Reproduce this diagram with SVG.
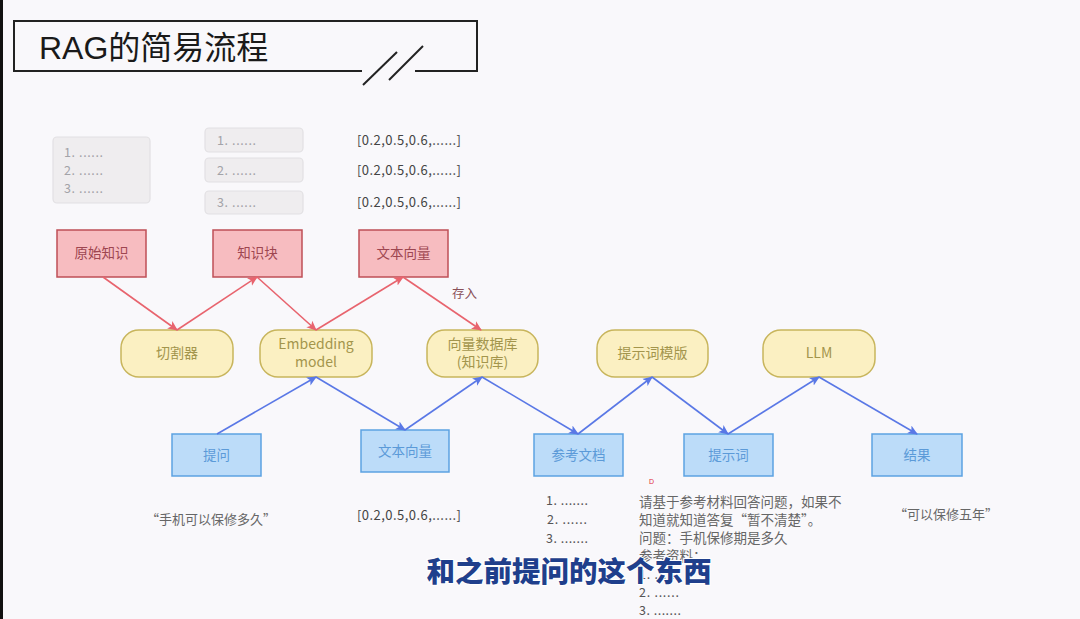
<svg xmlns="http://www.w3.org/2000/svg" width="1080" height="619" viewBox="0 0 1080 619">
<defs>
<marker id="ar" viewBox="0 0 10 10" refX="9" refY="5" markerWidth="10" markerHeight="10" orient="auto" markerUnits="userSpaceOnUse"><path d="M0,0.5 L10,5 L0,9.5 L2.5,5 z" fill="#e8646e"/></marker>
<marker id="ab" viewBox="0 0 10 10" refX="9" refY="5" markerWidth="10" markerHeight="10" orient="auto" markerUnits="userSpaceOnUse"><path d="M0,0.5 L10,5 L0,9.5 L2.5,5 z" fill="#5a78e6"/></marker>
<style>
text{font-family:"Noto Sans CJK SC","Noto Sans",sans-serif}
.gb{fill:#efedef;stroke:#e2e0e3;stroke-width:1.2}
.gt{fill:#a3a3a8;font-size:12.5px}
.vt{fill:#444;font-size:13px}
.rb{fill:#f7bcc0;stroke:#bf4f57;stroke-width:1.5}
.rt{fill:#9e4650;font-size:13.5px;text-anchor:middle}
.yb{fill:#fbf0c2;stroke:#c8b55c;stroke-width:1.5}
.yt{fill:#a3954c;font-size:14px;text-anchor:middle}
.bb{fill:#bcdcf9;stroke:#5ca2e2;stroke-width:1.5}
.bt{fill:#5b9ad8;font-size:13.5px;text-anchor:middle}
.lr{stroke:#e8646e;stroke-width:1.6;fill:none;marker-end:url(#ar)}
.lb{stroke:#5a78e6;stroke-width:1.6;fill:none;marker-end:url(#ab)}
.nt{fill:#555;font-size:12.5px}
.pt{fill:#666;font-size:13.5px}
</style>
</defs>
<rect width="1080" height="619" fill="#f9f8fb"/>
<rect x="0" y="0" width="3" height="619" fill="#111"/>

<g id="title">
<path d="M362,71 H14 V21 H477 V71 H415" fill="none" stroke="#222" stroke-width="2"/>
<line x1="363" y1="85" x2="397" y2="52" stroke="#222" stroke-width="2"/>
<line x1="389" y1="80" x2="423" y2="46" stroke="#222" stroke-width="2"/>
<text x="39" y="59" style="font-family:'Liberation Sans','Noto Sans CJK SC',sans-serif;font-size:32px;fill:#1a1a1a">RAG的简易流程</text>
</g>

<g id="doc-list">
<rect class="gb" x="53" y="137" width="97" height="66" rx="4"/>
<text class="gt" x="64" y="157" textLength="39">1. ......</text>
<text class="gt" x="64" y="175" textLength="39">2. ......</text>
<text class="gt" x="64" y="193" textLength="39">3. ......</text>
</g>
<g id="chunks">
<rect class="gb" x="205" y="128" width="98" height="24" rx="4"/>
<text class="gt" x="217" y="145" textLength="39">1. ......</text>
<rect class="gb" x="205" y="158" width="98" height="24" rx="4"/>
<text class="gt" x="217" y="175" textLength="39">2. ......</text>
<rect class="gb" x="205" y="191" width="98" height="23" rx="4"/>
<text class="gt" x="217" y="207" textLength="39">3. ......</text>
</g>
<g id="vectors">
<text class="vt" x="357" y="145" textLength="104">[0.2,0.5,0.6,......]</text>
<text class="vt" x="357" y="175" textLength="104">[0.2,0.5,0.6,......]</text>
<text class="vt" x="357" y="207" textLength="104">[0.2,0.5,0.6,......]</text>
</g>

<g id="n-raw"><rect class="rb" x="57" y="230" width="89" height="47"/><text class="rt" x="101.5" y="258">原始知识</text></g>
<g id="n-chunk"><rect class="rb" x="213" y="230" width="89" height="47"/><text class="rt" x="257.5" y="258">知识块</text></g>
<g id="n-vec-top"><rect class="rb" x="359" y="230" width="89" height="47"/><text class="rt" x="403.5" y="258">文本向量</text></g>

<g id="n-splitter"><rect class="yb" x="121" y="330" width="112" height="47" rx="18"/><text class="yt" x="177" y="358">切割器</text></g>
<g id="n-embed"><rect class="yb" x="260" y="330" width="112" height="47" rx="18"/><text class="yt" x="316" y="349">Embedding</text><text class="yt" x="316" y="367">model</text></g>
<g id="n-vdb"><rect class="yb" x="427" y="330" width="111" height="47" rx="18"/><text class="yt" x="482.5" y="349">向量数据库</text><text class="yt" x="482.5" y="367">(知识库)</text></g>
<g id="n-tpl"><rect class="yb" x="597" y="330" width="111" height="47" rx="18"/><text class="yt" x="652.5" y="358">提示词模版</text></g>
<g id="n-llm"><rect class="yb" x="763" y="330" width="112" height="47" rx="18"/><text class="yt" x="819" y="358">LLM</text></g>

<g id="n-question"><rect class="bb" x="172" y="434" width="89" height="42"/><text class="bt" x="216.5" y="460">提问</text></g>
<g id="n-vec-bot"><rect class="bb" x="361" y="430" width="88" height="42"/><text class="bt" x="405" y="456">文本向量</text></g>
<g id="n-ref"><rect class="bb" x="534" y="434" width="89" height="42"/><text class="bt" x="578.5" y="460">参考文档</text></g>
<g id="n-prompt"><rect class="bb" x="684" y="434" width="89" height="42"/><text class="bt" x="728.5" y="460">提示词</text></g>
<g id="n-result"><rect class="bb" x="872" y="434" width="90" height="42"/><text class="bt" x="917" y="460">结果</text></g>

<g id="connectors">
<line class="lr" x1="103" y1="277" x2="177" y2="330"/>
<line class="lr" x1="177" y1="330" x2="257" y2="277"/>
<line class="lr" x1="257" y1="277" x2="316" y2="330"/>
<line class="lr" x1="316" y1="330" x2="403" y2="277"/>
<line class="lr" x1="403" y1="277" x2="481" y2="330"/>
<text x="452" y="298" style="fill:#8a5058;font-size:12.5px">存入</text>
<line class="lb" x1="217" y1="434" x2="316" y2="377"/>
<line class="lb" x1="316" y1="377" x2="405" y2="430"/>
<line class="lb" x1="405" y1="430" x2="482" y2="377"/>
<line class="lb" x1="482" y1="377" x2="578" y2="434"/>
<line class="lb" x1="578" y1="434" x2="652" y2="377"/>
<line class="lb" x1="652" y1="377" x2="728" y2="434"/>
<line class="lb" x1="728" y1="434" x2="819" y2="377"/>
<line class="lb" x1="819" y1="377" x2="917" y2="434"/>
</g>

<g id="notes">
<text class="nt" x="146" y="524" style="fill:#666;font-size:13px">“手机可以保修多久”</text>
<text class="vt" x="357" y="520" textLength="104">[0.2,0.5,0.6,......]</text>
<text class="nt" x="546" y="505" textLength="42">1. .......</text>
<text class="nt" x="547" y="524" textLength="40">2. ......</text>
<text class="nt" x="546" y="543" textLength="42">3. .......</text>
<text x="649" y="484" style="fill:#e0303a;font-size:7px;font-family:'Liberation Sans',sans-serif">D</text>
<text class="pt" x="639" y="507">请基于参考材料回答问题，如果不</text>
<text class="pt" x="639" y="525">知道就知道答复“暂不清楚”。</text>
<text class="pt" x="639" y="543">问题：手机保修期是多久</text>
<text class="pt" x="639" y="561">参考资料：</text>
<text class="nt" x="639" y="579" textLength="40">1. ......</text>
<text class="nt" x="639" y="597" textLength="40">2. ......</text>
<text class="nt" x="639" y="615" textLength="42">3. .......</text>
<text class="nt" x="894" y="519" style="fill:#666;font-size:13px">“可以保修五年”</text>
</g>

<g id="subtitle">
<text x="569" y="582" text-anchor="middle" style="font-size:28.5px;font-weight:900;fill:#1f3f8c;stroke:#ffffff;stroke-width:2;paint-order:stroke">和之前提问的这个东西</text>
</g>
</svg>
